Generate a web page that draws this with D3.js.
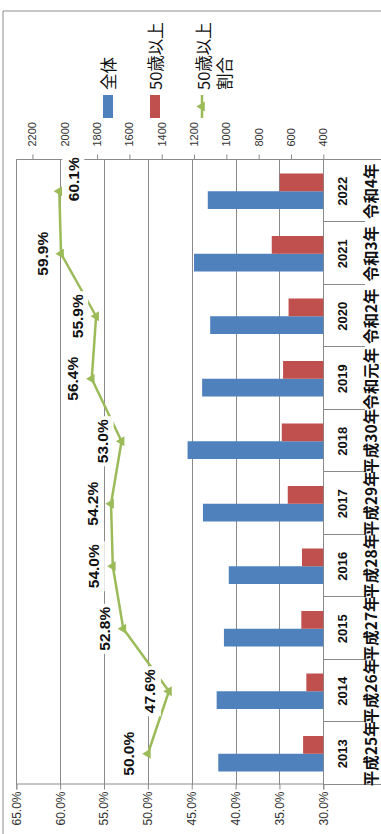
<!DOCTYPE html>
<html>
<head>
<meta charset="utf-8">
<script src="https://cdn.jsdelivr.net/npm/d3@7"></script>
<style>
  html, body { margin: 0; padding: 0; background: #fff; overflow: hidden; }
  svg { display: block; }
</style>
</head>
<body>
<svg id="chart" width="381" height="834"></svg>
<script>
// ---- data ----
const years = ["2013", "2014", "2015", "2016", "2017", "2018", "2019", "2020", "2021", "2022"];
const eras = ["平成25年", "平成26年", "平成27年", "平成28年", "平成29年", "平成30年", "令和元年", "令和2年", "令和3年", "令和4年"];
const totalCount = [1050, 1060, 1015, 985, 1145, 1240, 1150, 1100, 1200, 1115];
const over50Count = [525, 505, 536, 532, 620, 657, 649, 615, 719, 670];
const over50Share = [50.0, 47.6, 52.8, 54.0, 54.2, 53.0, 56.4, 55.9, 59.9, 60.1];
const shareTicks = [30, 35, 40, 45, 50, 55, 60, 65];
const countTicks = [400, 600, 800, 1000, 1200, 1400, 1600, 1800, 2000, 2200];
const legendLabels = [["全体"], ["50歳以上"], ["50歳以上", "割合"]];

// ---- style ----
const BLUE = "#4F81BD", RED = "#C0504D", GREEN = "#9BBB59", GRID = "#8a8a8a";
const LATIN = "'Liberation Sans', Arial, sans-serif";
const CJK = "'Noto Sans CJK JP', 'Noto Sans', sans-serif";

// The chart is laid out as a landscape 834x381 figure and turned a quarter turn
// counter-clockwise to fit the portrait page.
const FW = 834, FH = 381;
const svg = d3.select("#chart");
const g = svg.append("g").attr("transform", `translate(0,${FW}) rotate(-90)`);

// plot frame
const X0 = 49, X1 = 674, YT = 16.3, YB = 323.3;

const x = d3.scaleBand().domain(years).range([X0, X1]).paddingInner(0).paddingOuter(0);
const bw = x.bandwidth();
const xs = d3.scaleBand().domain(["total", "over50"]).range([0, bw]).paddingInner(0).paddingOuter(0.76);
const yPct = d3.scaleLinear().domain([30, 65]).range([YB, YT]);
const yCnt = d3.scaleLinear().domain([400, 2300]).range([YB, YT]);

// chart area border
g.append("path")
  .attr("d", `M-20,3 H823 V${FH + 20}`)
  .attr("fill", "none").attr("stroke", "#8c8c8c").attr("stroke-width", 1);

// horizontal gridlines (percent)
g.append("g").selectAll("line").data(shareTicks).join("line")
  .attr("x1", X0).attr("x2", X1)
  .attr("y1", d => Math.round(yPct(d)) + 0.5).attr("y2", d => Math.round(yPct(d)) + 0.5)
  .attr("stroke", GRID).attr("stroke-width", 1);

// bars
const bars = g.append("g");
bars.selectAll("rect.total").data(years).join("rect").attr("class", "total")
  .attr("x", d => x(d) + xs("total")).attr("width", xs.bandwidth())
  .attr("y", (d, i) => yCnt(totalCount[i])).attr("height", (d, i) => YB - yCnt(totalCount[i]))
  .attr("fill", BLUE);
bars.selectAll("rect.over50").data(years).join("rect").attr("class", "over50")
  .attr("x", d => x(d) + xs("over50")).attr("width", xs.bandwidth())
  .attr("y", (d, i) => yCnt(over50Count[i])).attr("height", (d, i) => YB - yCnt(over50Count[i]))
  .attr("fill", RED);

// category separators below the axis
const edges = d3.range(years.length + 1).map(i => X0 + i * bw);
g.append("g").selectAll("line").data(edges).join("line")
  .attr("x1", d => Math.round(d) + 0.5).attr("x2", d => Math.round(d) + 0.5)
  .attr("y1", YB).attr("y2", (d, i) => (i === 0 || i === years.length) ? FH : 365)
  .attr("stroke", GRID).attr("stroke-width", 1);

// left axis (share)
const axL = g.append("g").attr("transform", `translate(${X0 + 0.5},0)`)
  .call(d3.axisLeft(yPct).tickValues(shareTicks).tickSize(5).tickPadding(2)
    .tickFormat(d => d.toFixed(1) + "%"));
axL.select(".domain").attr("stroke", GRID);
axL.selectAll(".tick line").attr("stroke", GRID);
axL.selectAll("text").attr("font-family", LATIN).attr("font-size", 12).attr("fill", "#333");

// right axis (count)
const axR = g.append("g").attr("transform", `translate(${X1 + 0.5},0)`)
  .call(d3.axisRight(yCnt).tickValues(countTicks).tickSize(5).tickPadding(8).tickFormat(d3.format("d")));
axR.select(".domain").attr("stroke", GRID).attr("d", `M0,${YT}V${YB}`);
axR.selectAll(".tick line").attr("stroke", GRID);
axR.selectAll("text").attr("font-family", LATIN).attr("font-size", 11).attr("fill", "#333");
// extend the right edge line past the axis through the label rows
g.append("line").attr("x1", X1 + 0.5).attr("x2", X1 + 0.5).attr("y1", YT).attr("y2", FH)
  .attr("stroke", GRID);

// category labels
const cat = g.append("g");
cat.selectAll("text.yr").data(years).join("text").attr("class", "yr")
  .attr("x", d => x(d) + bw / 2).attr("y", 342)
  .attr("text-anchor", "middle").attr("dominant-baseline", "central")
  .attr("font-family", LATIN).attr("font-weight", "bold").attr("font-size", 13)
  .attr("fill", "#111").text(d => d);
cat.selectAll("text.era").data(eras).join("text").attr("class", "era")
  .attr("x", (d, i) => x(years[i]) + bw / 2).attr("y", 370)
  .attr("text-anchor", "middle").attr("dominant-baseline", "central")
  .attr("font-family", CJK).attr("font-weight", "bold").attr("font-size", 15.5)
  .attr("fill", "#111").text(d => d);

// share line + markers
const cx = (d, i) => x(years[i]) + bw / 2;
g.append("path").datum(over50Share)
  .attr("d", d3.line().x(cx).y(d => yPct(d)))
  .attr("fill", "none").attr("stroke", GREEN).attr("stroke-width", 2.5).attr("stroke-linejoin", "round");
const tri = d3.symbol(d3.symbolTriangle).size(42);
g.append("g").selectAll("path").data(over50Share).join("path")
  .attr("transform", (d, i) => `translate(${cx(d, i)},${yPct(d)})`)
  .attr("d", tri).attr("fill", GREEN);

// data labels with white backing
const lab = g.append("g").selectAll("g").data(over50Share).join("g")
  .attr("transform", (d, i) => {
    const last = i === over50Share.length - 1;
    const lx = cx(d, i) + (last ? 12 : 0);
    const ly = yPct(d) + (last ? 14 : -19);
    return `translate(${lx},${ly})`;
  });
lab.append("rect").attr("x", -25).attr("y", -11).attr("width", 50).attr("height", 22).attr("fill", "#fff");
lab.append("text")
  .attr("text-anchor", "middle").attr("dominant-baseline", "central")
  .attr("font-family", LATIN).attr("font-weight", "bold").attr("font-size", 15.5)
  .attr("fill", "#111").text(d => d.toFixed(1) + "%");

// legend
const LX = 716, LT = 744;
const legendY = [108, 155, 203];
const leg = g.append("g");
leg.append("rect").attr("x", LX).attr("y", legendY[0] - 5).attr("width", 23).attr("height", 10).attr("fill", BLUE);
leg.append("rect").attr("x", LX).attr("y", legendY[1] - 5).attr("width", 23).attr("height", 10).attr("fill", RED);
leg.append("line").attr("x1", LX).attr("x2", LX + 23).attr("y1", legendY[2] - 1).attr("y2", legendY[2] - 1)
  .attr("stroke", GREEN).attr("stroke-width", 2.5);
leg.append("path").attr("transform", `translate(${LX + 11.5},${legendY[2] - 1})`).attr("d", tri).attr("fill", GREEN);
legendLabels.forEach((lines, k) => {
  lines.forEach((t, j) => {
    leg.append("text").attr("x", LT).attr("y", legendY[k] + j * 21)
      .attr("dominant-baseline", "central")
      .attr("font-family", CJK).attr("font-size", 16.5).attr("fill", "#111").text(t);
  });
});
</script>
</body>
</html>
